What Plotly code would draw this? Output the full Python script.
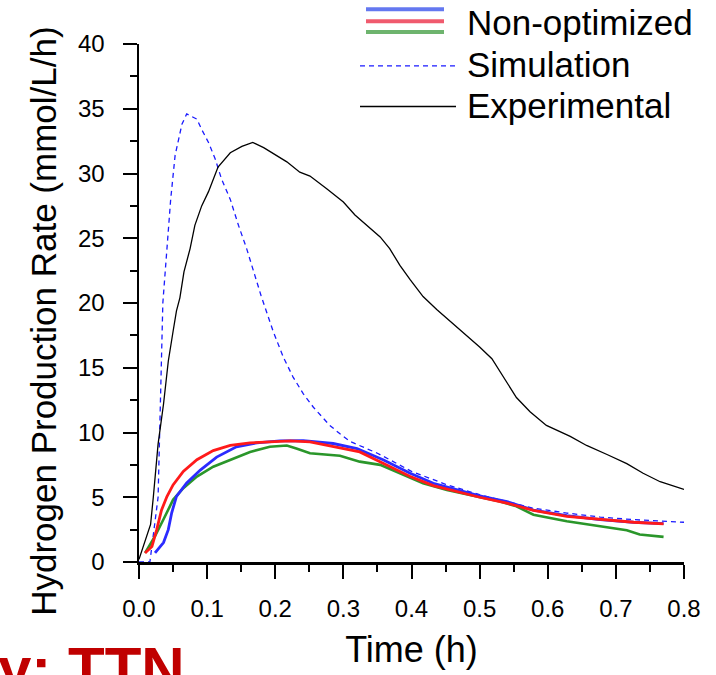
import plotly.graph_objects as go

# ---------------- data ----------------
sim_t = [0.0, 0.016, 0.022, 0.028, 0.035, 0.037, 0.042, 0.0465, 0.053, 0.058, 0.063, 0.070,
         0.085, 0.092, 0.102, 0.112, 0.121, 0.134, 0.146, 0.158, 0.170, 0.179, 0.197, 0.212,
         0.226, 0.241, 0.256, 0.266, 0.280, 0.295, 0.31, 0.35, 0.40, 0.45, 0.50, 0.53, 0.578,
         0.628, 0.677, 0.726, 0.80]
sim_v = [0.0, 0.0, 2.5, 5.0, 20.0, 21.5, 24.7, 28.0, 31.4, 32.6, 33.8, 34.6,
         34.2, 33.4, 32.4, 31.1, 29.6, 28.0, 26.0, 24.2, 22.2, 20.6, 17.8, 15.8,
         14.3, 13.0, 11.95, 11.4, 10.55, 9.9, 9.3, 8.4, 7.0, 6.0, 5.2, 4.8, 4.16,
         3.78, 3.47, 3.27, 3.07]

exp_t = [0.0, 0.017, 0.021, 0.028, 0.036, 0.043, 0.050, 0.055, 0.060, 0.066, 0.075, 0.082,
         0.092, 0.102, 0.116, 0.134, 0.151, 0.167, 0.183, 0.202, 0.217, 0.236, 0.251, 0.276,
         0.300, 0.317, 0.334, 0.354, 0.368, 0.383, 0.398, 0.417, 0.437, 0.457, 0.476, 0.500,
         0.518, 0.535, 0.554, 0.574, 0.598, 0.633, 0.657, 0.687, 0.716, 0.740, 0.765, 0.80]
exp_v = [0.2, 2.9, 5.0, 9.1, 12.2, 15.5, 17.8, 19.4, 20.4, 22.4, 24.2, 26.0,
         27.5, 28.6, 30.5, 31.6, 32.1, 32.4, 32.0, 31.4, 30.9, 30.1, 29.8, 28.8,
         27.8, 26.8, 26.0, 25.1, 24.2, 22.9, 21.8, 20.5, 19.5, 18.6, 17.7, 16.6,
         15.7, 14.3, 12.7, 11.6, 10.55, 9.7, 9.0, 8.3, 7.6, 6.85, 6.2, 5.6]

blue_t = [0.0235, 0.036, 0.043, 0.048, 0.055, 0.070, 0.090, 0.114, 0.143, 0.173, 0.207, 0.241,
          0.285, 0.32, 0.359, 0.398, 0.432, 0.466, 0.50, 0.54, 0.579, 0.628, 0.677, 0.726, 0.77]
blue_v = [0.7, 1.5, 2.5, 3.8, 5.06, 6.1, 7.1, 8.1, 8.9, 9.2, 9.35, 9.37,
          9.15, 8.76, 7.87, 6.85, 6.08, 5.57, 5.1, 4.67, 4.0, 3.58, 3.27, 3.07, 2.97]

red_t = [0.0088, 0.019, 0.026, 0.033, 0.041, 0.050, 0.065, 0.085, 0.109, 0.134, 0.163, 0.192,
         0.222, 0.251, 0.295, 0.324, 0.359, 0.398, 0.432, 0.466, 0.50, 0.54, 0.579, 0.628,
         0.677, 0.726, 0.77]
red_v = [0.7, 1.2, 2.5, 4.0, 5.06, 5.95, 7.0, 7.9, 8.6, 9.0, 9.2, 9.3,
         9.35, 9.27, 8.8, 8.5, 7.6, 6.6, 5.9, 5.44, 5.0, 4.55, 3.98, 3.52,
         3.27, 3.07, 2.94]

green_t = [0.009, 0.0235, 0.036, 0.050, 0.065, 0.085, 0.109, 0.134, 0.163, 0.192, 0.217, 0.231,
           0.251, 0.295, 0.324, 0.354, 0.383, 0.417, 0.452, 0.491, 0.53, 0.554, 0.579, 0.628,
           0.677, 0.716, 0.735, 0.77]
green_v = [0.7, 2.0, 3.3, 4.8, 5.7, 6.6, 7.36, 7.9, 8.5, 8.9, 9.0, 8.76,
           8.4, 8.2, 7.75, 7.5, 6.85, 6.08, 5.57, 5.1, 4.67, 4.3, 3.65, 3.14,
           2.76, 2.45, 2.12, 1.94]

x_ticks = [0.0, 0.1, 0.2, 0.3, 0.4, 0.5, 0.6, 0.7, 0.8]
x_tick_labels = ["0.0", "0.1", "0.2", "0.3", "0.4", "0.5", "0.6", "0.7", "0.8"]
y_ticks = [0, 5, 10, 15, 20, 25, 30, 35, 40]
y_tick_labels = ["0", "5", "10", "15", "20", "25", "30", "35", "40"]

legend_labels = ["Non-optimized", "Simulation", "Experimental"]
x_title = "Time (h)"
y_title = "Hydrogen Production Rate (mmol/L/h)"
corner_text = "y: TTN"

# ---------------- figure ----------------
FONT = "Liberation Sans, Arial, sans-serif"
W, H = 716, 675
L, R, T, B = 139, 32, 44, 109
PW, PH = W - L - R, H - T - B


def px(xs):
    return (xs - L) / PW


def py(ys):
    return (H - B - ys) / PH


fig = go.Figure()
fig.add_trace(go.Scatter(x=sim_t, y=sim_v, mode="lines",
                         line=dict(color="#1a1aff", width=1.3, dash="5px,4px")))
fig.add_trace(go.Scatter(x=exp_t, y=exp_v, mode="lines",
                         line=dict(color="black", width=1.3)))
fig.add_trace(go.Scatter(x=green_t, y=green_v, mode="lines",
                         line=dict(color="#2a962a", width=2.6)))
fig.add_trace(go.Scatter(x=blue_t, y=blue_v, mode="lines",
                         line=dict(color="#2b2bff", width=2.8)))
fig.add_trace(go.Scatter(x=red_t, y=red_v, mode="lines",
                         line=dict(color="#ff1a1a", width=2.8)))

axis_common = dict(showgrid=False, zeroline=False, showline=True, linecolor="black",
                   linewidth=2.5, ticks="outside", ticklen=14, tickwidth=2,
                   tickcolor="black", tickfont=dict(family=FONT, size=24, color="black"))

fig.update_xaxes(range=[0, 0.8], tickvals=x_ticks, ticktext=x_tick_labels,
                 minor=dict(dtick=0.05, ticks="outside", ticklen=7, tickwidth=2,
                            tickcolor="black"),
                 ticklabelstandoff=10,
                 title=dict(text=x_title, font=dict(family=FONT, size=36, color="black"),
                            standoff=16),
                 **axis_common)
fig.update_yaxes(range=[0, 40], tickvals=y_ticks, ticktext=y_tick_labels,
                 minor=dict(dtick=2.5, ticks="outside", ticklen=7, tickwidth=2,
                            tickcolor="black"),
                 ticklabelstandoff=13,
                 **axis_common)

shapes = []
annotations = []
# legend: three stacked lines for Non-optimized
for yy, col in [(9, "#6478f0"), (21, "#f05a6e"), (32, "#6eb46e")]:
    shapes.append(dict(type="line", xref="paper", yref="paper",
                       x0=px(366), x1=px(444), y0=py(yy), y1=py(yy),
                       line=dict(color=col, width=4)))
shapes.append(dict(type="line", xref="paper", yref="paper",
                   x0=px(360), x1=px(456), y0=py(66), y1=py(66),
                   line=dict(color="#1a1aff", width=1.3, dash="5px,4px")))
shapes.append(dict(type="line", xref="paper", yref="paper",
                   x0=px(360), x1=px(456), y0=py(107), y1=py(107),
                   line=dict(color="black", width=1.3)))
for label, yy in zip(legend_labels, [22, 65, 106]):
    annotations.append(dict(text=label, xref="paper", yref="paper", x=px(465), y=py(yy),
                            xanchor="left", yanchor="middle", showarrow=False,
                            font=dict(family=FONT, size=35, color="black")))

annotations.append(dict(text=y_title, xref="paper", yref="paper", x=px(44), y=py(324),
                        xanchor="center", yanchor="middle", textangle=-90, showarrow=False,
                        font=dict(family=FONT, size=35, color="black")))
annotations.append(dict(text="<b>" + corner_text + "</b>", xref="paper", yref="paper",
                        x=px(-4), y=py(638), xanchor="left", yanchor="top", showarrow=False,
                        font=dict(family=FONT, size=60, color="#c00000")))

fig.update_layout(width=W, height=H, margin=dict(l=L, r=R, t=T, b=B),
                  plot_bgcolor="white", paper_bgcolor="white", showlegend=False,
                  hovermode=False, shapes=shapes, annotations=annotations)

fig.write_html("out.html",
               config={"displayModeBar": False, "staticPlot": True},
               post_script="document.body.style.margin='0';"
                           "document.body.style.overflow='hidden';")
